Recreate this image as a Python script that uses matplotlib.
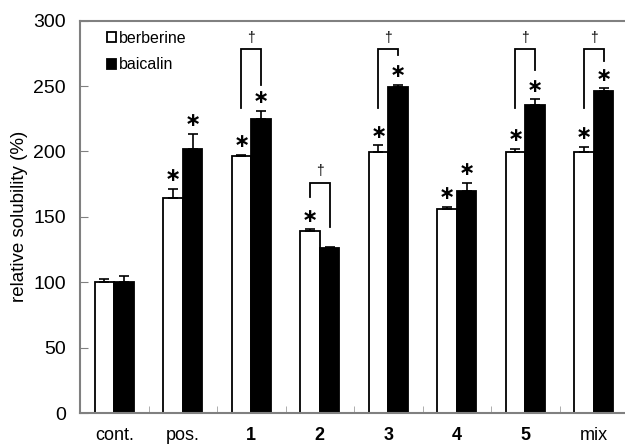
import matplotlib
matplotlib.use('Agg')
import matplotlib.pyplot as plt
import numpy as np

groups = ['cont.', 'pos.', '1', '2', '3', '4', '5', 'mix']
bold_labels = [False, False, True, True, True, True, True, False]
berberine = [100, 164.4, 196.2, 139.4, 199.8, 155.7, 199.3, 199.8]
berberine_err = [2.5, 7.0, 1.3, 1.0, 4.9, 2.0, 2.7, 3.8]
baicalin = [100, 202.0, 225.0, 126.0, 249.5, 169.5, 235.5, 246.4]
baicalin_err = [4.5, 11.3, 6.0, 1.0, 1.3, 6.5, 4.5, 1.8]
star_berberine = [False, True, True, True, True, True, True, True]
star_baicalin = [False, True, True, False, True, True, True, True]
# significance brackets: group index, top, left leg end, right leg end
bracket_groups = [2, 3, 4, 6, 7]
bracket_top = [278, 176, 278, 278, 278]
bracket_left = [233, 165, 233, 233, 233]
bracket_right = [251, 142, 273.5, 262, 269]

plt.rcParams['font.family'] = ['Liberation Sans', 'DejaVu Sans']

fig = plt.figure(figsize=(6.25, 4.46), dpi=100)
ax = fig.add_axes([80 / 625, 33 / 446, 548 / 625, 392.3 / 446])

x = np.arange(len(groups))
w = 0.285
xw = x - w / 2
xb = x + w / 2

ax.bar(xw, berberine, w, color='white', edgecolor='black', linewidth=1.3, label='berberine', zorder=2)
ax.bar(xb, baicalin, w, color='black', edgecolor='black', linewidth=1.3, label='baicalin', zorder=2)
ax.errorbar(xw, berberine, yerr=[np.zeros(len(x)), berberine_err], fmt='none', ecolor='black',
            elinewidth=1.2, capsize=3.5, capthick=1.2, zorder=3)
ax.errorbar(xb, baicalin, yerr=[np.zeros(len(x)), baicalin_err], fmt='none', ecolor='black',
            elinewidth=1.2, capsize=3.5, capthick=1.2, zorder=3)

for i in range(len(x)):
    if star_berberine[i]:
        ax.text(xw[i], berberine[i] + berberine_err[i] + 10, '∗', ha='center', va='center',
                fontsize=14, fontweight='bold', family='DejaVu Sans')
    if star_baicalin[i]:
        ax.text(xb[i], baicalin[i] + baicalin_err[i] + 10, '∗', ha='center', va='center',
                fontsize=14, fontweight='bold', family='DejaVu Sans')

for g, top, yl, yr in zip(bracket_groups, bracket_top, bracket_left, bracket_right):
    ax.plot([xw[g], xw[g], xb[g], xb[g]], [yl, top, top, yr], color='black', lw=1.3,
            solid_joinstyle='miter', zorder=3)
    ax.text((xw[g] + xb[g]) / 2, top + 9, '†', ha='center', va='center', fontsize=10)

ax.set_xlim(-0.5, len(groups) - 0.5)
ax.set_ylim(0, 300)
ax.set_yticks(np.arange(0, 301, 50))
ax.tick_params(axis='y', direction='in', length=6, color='#808080', labelsize=14, pad=10)
ax.set_xticks(x)
ax.set_xticklabels(groups)
for lab, b in zip(ax.get_xticklabels(), bold_labels):
    if b:
        lab.set_fontweight('bold')
ax.tick_params(axis='x', length=0, labelsize=13, pad=10)
ax.set_xticks(np.arange(0.5, len(groups) - 0.5, 1), minor=True)
ax.tick_params(axis='x', which='minor', direction='in', length=5, color='#a0a0a0')
ax.set_ylabel('relative solubility (%)', fontsize=13.5, labelpad=4)

for s in ['left', 'bottom', 'top']:
    ax.spines[s].set_color('#808080')
    ax.spines[s].set_linewidth(1.5)
ax.spines['right'].set_visible(False)

ax.legend(loc='upper left', bbox_to_anchor=(0.05, 0.975), frameon=False, fontsize=11.5,
          borderpad=0, borderaxespad=0, handlelength=0.55, handleheight=0.55,
          handletextpad=0.2, labelspacing=0.75)

fig.savefig('out.png', dpi=100)
